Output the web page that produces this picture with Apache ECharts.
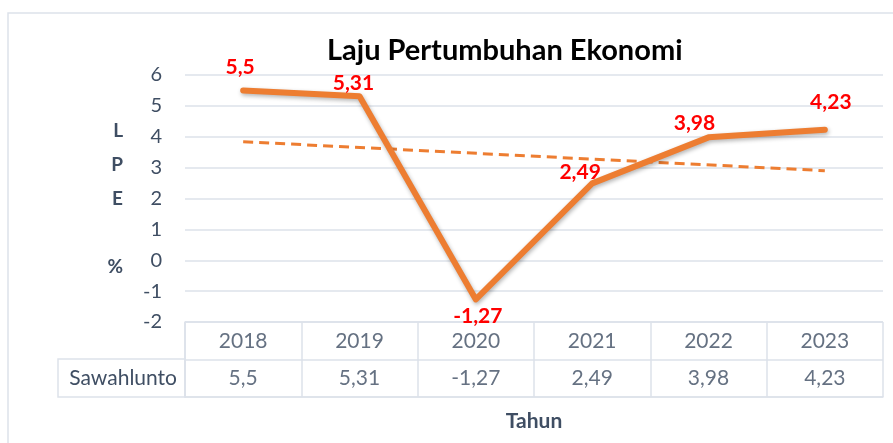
<!DOCTYPE html>
<html>
<head>
<meta charset="utf-8">
<script src="https://cdn.jsdelivr.net/npm/echarts@6/dist/echarts.min.js"></script>
<style>
	html, body { margin: 0; padding: 0; background: #fff; }
	#chart { width: 893px; height: 443px; }
</style>
</head>
<body>
<div id="chart"></div>
<script>
var years = ['2018', '2019', '2020', '2021', '2022', '2023'];
var lpe = [5.5, 5.31, -1.27, 2.49, 3.98, 4.23];
// trend line ends
var trend = [3.84, null, null, null, null, 2.9];
var yTicks = { min: -2, max: 6, step: 1 };
var rowName = 'Sawahlunto';

var fmt = function(v){
	return String( v ).replace( '.', ',' );
};

var textColor = '#3f4e63';
var lineColor = '#dde2ea';
var font = 'Lato';

// where each data label sits around its point
var labelPlace = [
	{position:'top', distance:13, offset:[-3, 0]},
	{position:'top', distance:3, offset:[-6, 0]},
	{position:'bottom', distance:6, offset:[2, 0]},
	{position:'top', distance:1, offset:[-12, 0]},
	{position:'top', distance:4, offset:[-14, 0]},
	{position:'top', distance:17, offset:[6, 0]}
];

var lineData = lpe.map( function(v, i){
	return {value:v, label:labelPlace[i]};
} );

var headerCells = years.map( function(y){ return [y, 'head', y]; } );
var valueCells = years.map( function(y, i){ return [y, rowName, fmt( lpe[i] )]; } );

var chart = echarts.init( document.getElementById( 'chart' ) );
chart.setOption( {
	animation:false,
	textStyle:{fontFamily:font},
	title:{
		text:'Laju Pertumbuhan Ekonomi',
		left:322,
		top:31,
		textStyle:{fontFamily:font, fontSize:29, fontWeight:'bold', color:'#000'}
	},
	graphic:[
		{type:'rect', shape:{x:8, y:13, width:900, height:450}, style:{fill:null, stroke:lineColor, lineWidth:1.5}, silent:true},
		{type:'rect', shape:{x:58, y:359, width:127, height:38}, style:{fill:null, stroke:lineColor, lineWidth:1.5}, silent:true}
	],
	grid:[
		{left:185, right:10, top:75, height:247},
		{left:185, right:10, top:322, height:75}
	],
	xAxis:[
		{
			type:'category', gridIndex:0, data:years, boundaryGap:true,
			axisLine:{show:false}, axisTick:{show:false}, axisLabel:{show:false}
		},
		{
			type:'category', gridIndex:1, data:years, boundaryGap:true,
			axisLine:{show:true, lineStyle:{color:lineColor, width:1.5}},
			axisTick:{show:false}, axisLabel:{show:false},
			splitLine:{show:true, lineStyle:{color:lineColor, width:1.5}},
			name:'Tahun', nameLocation:'middle', nameGap:14,
			nameTextStyle:{fontFamily:font, fontSize:21, fontWeight:'bold', color:textColor}
		}
	],
	yAxis:[
		{
			type:'value', gridIndex:0, min:yTicks.min, max:yTicks.max, interval:yTicks.step,
			axisLine:{show:false}, axisTick:{show:false},
			axisLabel:{fontFamily:font, fontSize:20, color:textColor, margin:23},
			splitLine:{lineStyle:{color:lineColor, width:1.5}},
			name:'L\nP\nE\n\n%', nameLocation:'middle', nameRotate:0, nameGap:62,
			nameTextStyle:{fontFamily:font, fontSize:19, fontWeight:'bold', color:textColor,
				lineHeight:34, padding:[18, 0, 0, 0]}
		},
		{
			type:'category', gridIndex:1, data:[rowName, 'head'], boundaryGap:true,
			axisLine:{show:true, lineStyle:{color:lineColor, width:1.5}},
			axisTick:{show:false},
			axisLabel:{
				fontFamily:font, fontSize:21, color:textColor, margin:8,
				formatter:function(v){ return v === 'head' ? '' : v; }
			},
			splitLine:{show:true, lineStyle:{color:lineColor, width:1.5}}
		}
	],
	series:[
		{
			type:'line', xAxisIndex:0, yAxisIndex:0, data:trend, connectNulls:true,
			symbol:'none', z:2,
			lineStyle:{color:'#ed7d31', width:3, type:[10, 6]}
		},
		{
			type:'line', xAxisIndex:0, yAxisIndex:0, data:lineData,
			symbol:'circle', symbolSize:0, showSymbol:true, z:3,
			lineStyle:{
				color:'#ed7d31', width:6, cap:'round', join:'round',
				shadowColor:'rgba(0,0,0,0.3)', shadowBlur:4, shadowOffsetX:1, shadowOffsetY:2
			},
			label:{
				show:true, color:'#ff0000', fontFamily:font, fontWeight:'bold', fontSize:21,
				formatter:function(p){ return fmt( p.value ); }
			}
		},
		{
			type:'scatter', xAxisIndex:1, yAxisIndex:1, data:headerCells, symbolSize:0,
			label:{show:true, position:'inside', fontFamily:font, fontSize:21, color:textColor,
				formatter:function(p){ return p.value[2]; }}
		},
		{
			type:'scatter', xAxisIndex:1, yAxisIndex:1, data:valueCells, symbolSize:0,
			label:{show:true, position:'inside', fontFamily:font, fontSize:21, color:textColor,
				formatter:function(p){ return p.value[2]; }}
		}
	]
} );
</script>
</body>
</html>
